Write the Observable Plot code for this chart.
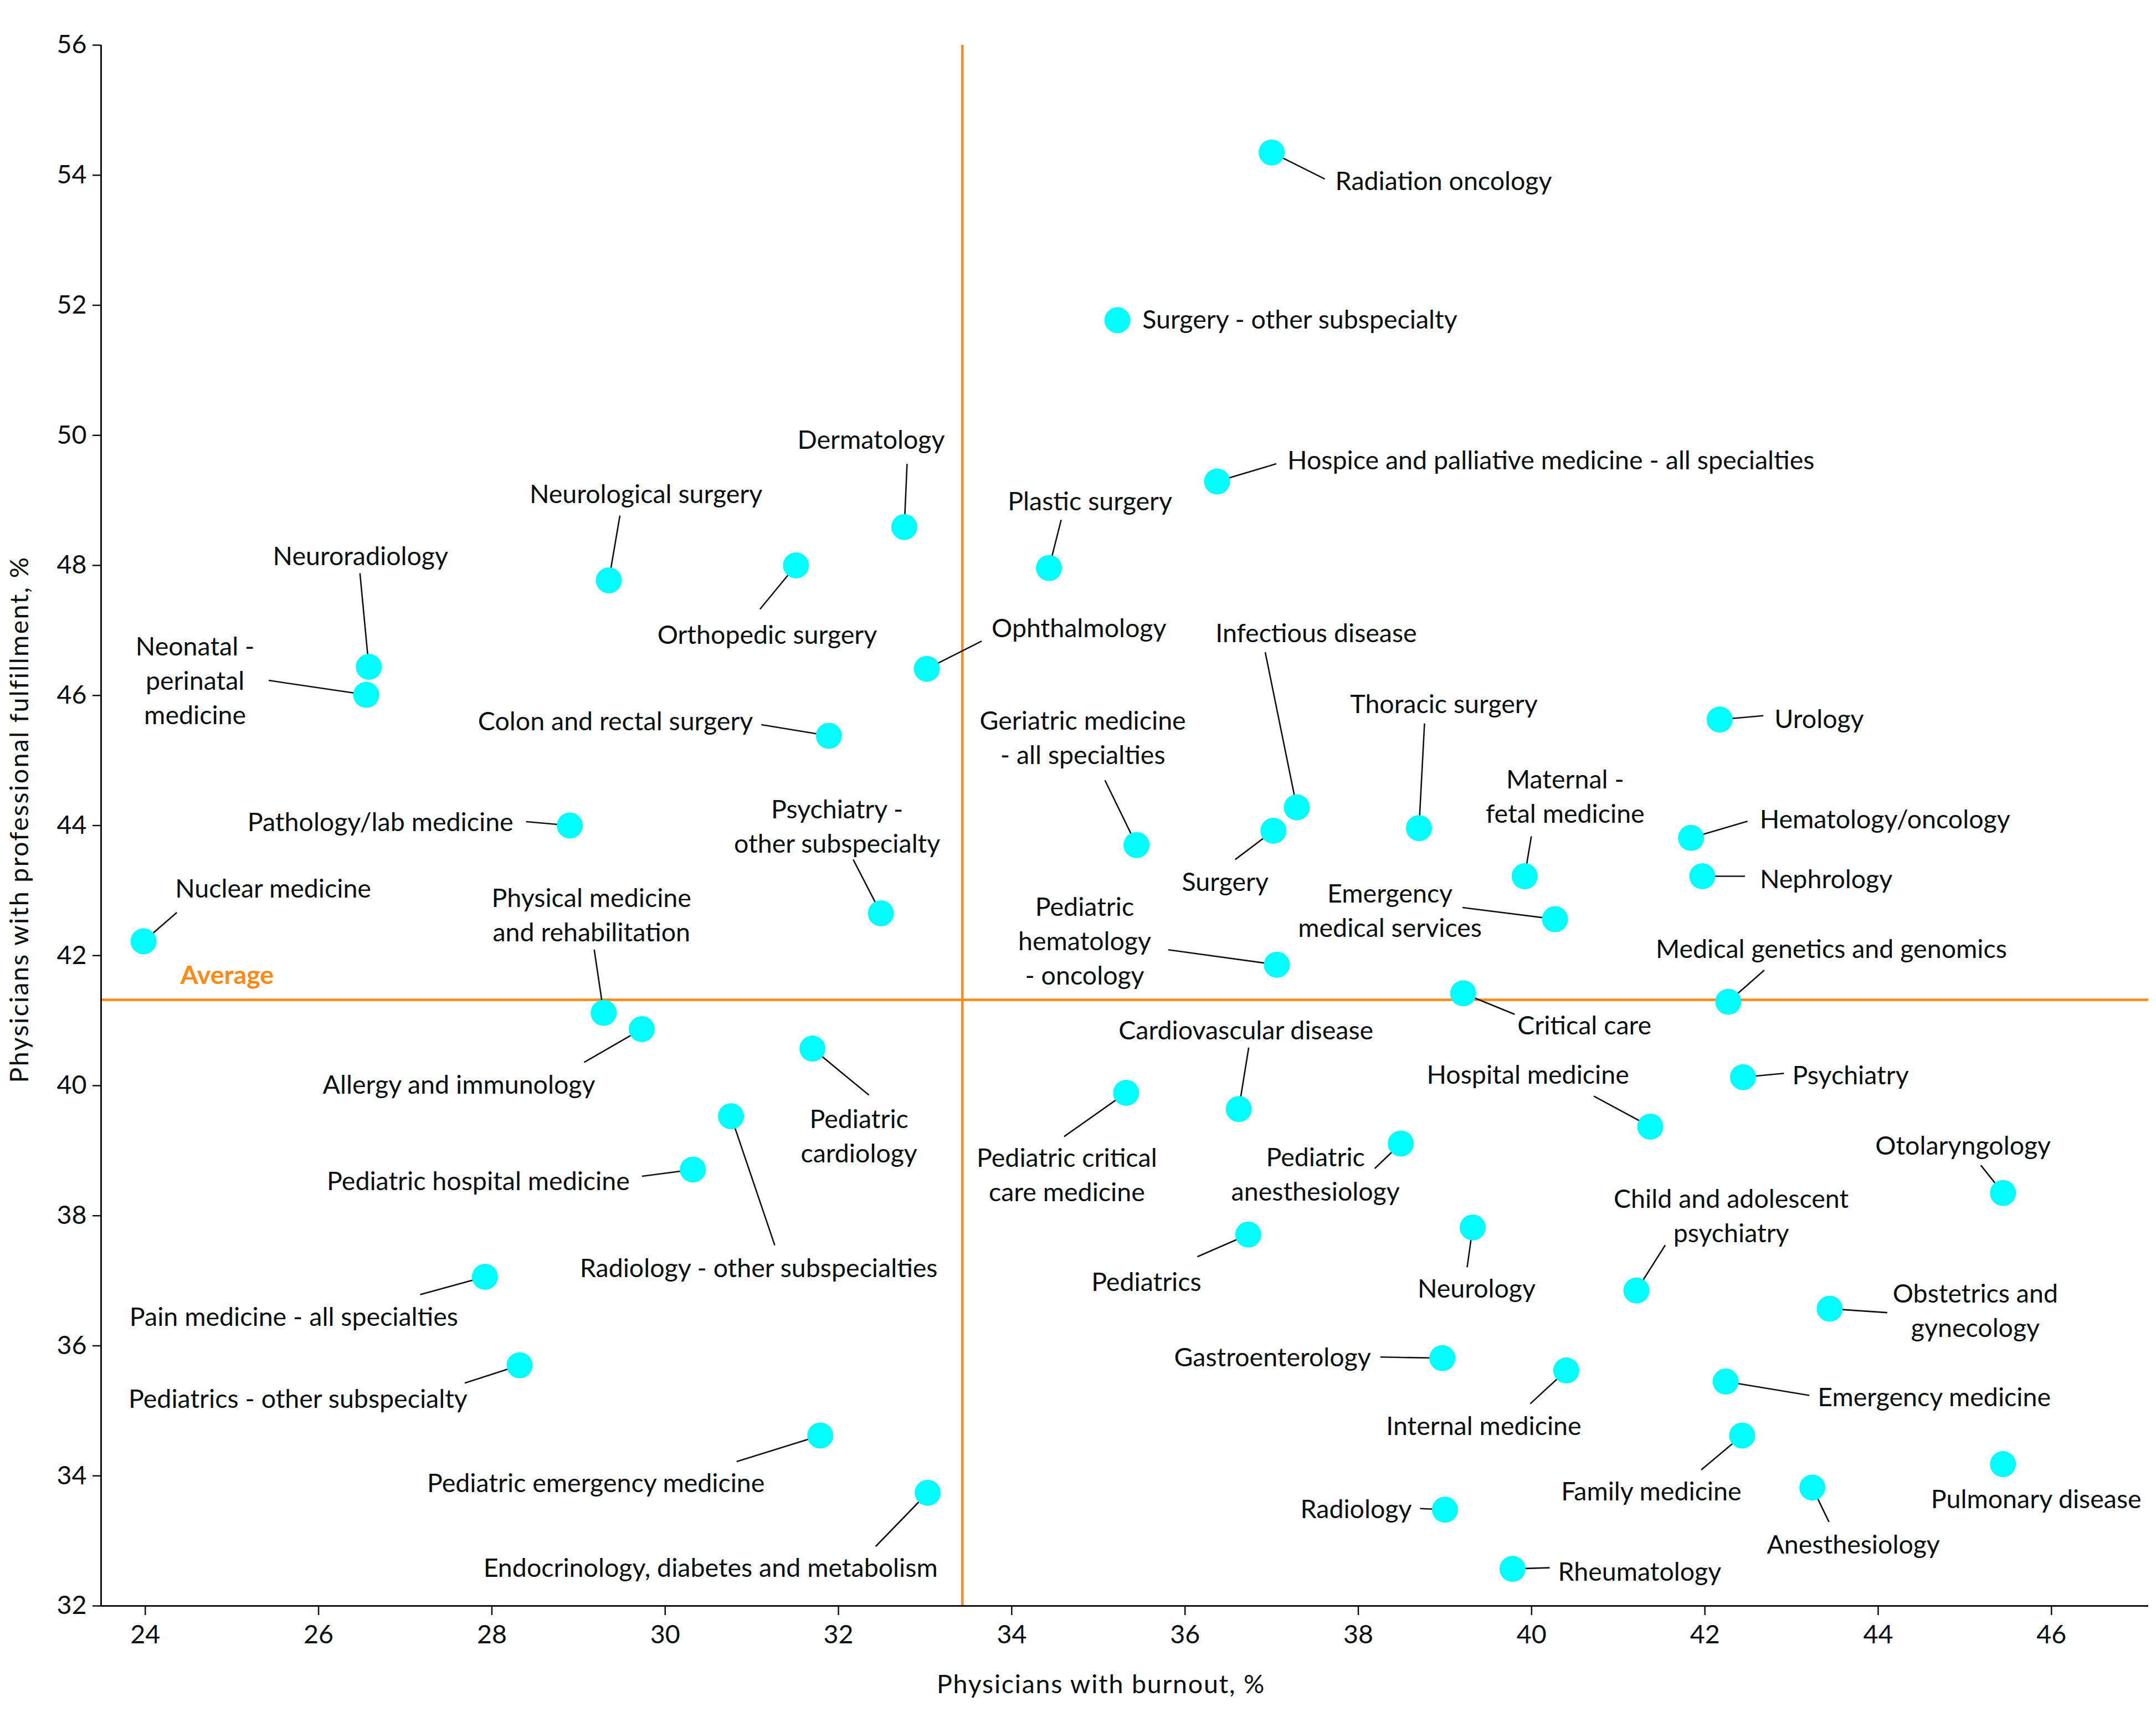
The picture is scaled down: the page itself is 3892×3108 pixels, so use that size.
<!DOCTYPE html>
<html>
<head>
<meta charset="utf-8">
<script src="https://cdn.jsdelivr.net/npm/d3@7"></script>
<script src="https://cdn.jsdelivr.net/npm/@observablehq/plot@0.6"></script>
<style>
  html, body { margin: 0; padding: 0; background: #fff; }
</style>
</head>
<body>
<div id="chart"></div>
<script>
// ---------------- DATA ----------------
const specialties = [
  "Radiation oncology", "Surgery - other subspecialty", "Hospice and palliative medicine - all specialties",
  "Plastic surgery", "Dermatology", "Neurological surgery", "Orthopedic surgery", "Neuroradiology",
  "Neonatal - perinatal medicine", "Ophthalmology", "Colon and rectal surgery", "Pathology/lab medicine",
  "Nuclear medicine", "Psychiatry - other subspecialty", "Physical medicine and rehabilitation",
  "Allergy and immunology", "Pediatric cardiology", "Radiology - other subspecialties",
  "Pediatric hospital medicine", "Pain medicine - all specialties", "Pediatrics - other subspecialty",
  "Pediatric emergency medicine", "Endocrinology, diabetes and metabolism", "Geriatric medicine - all specialties",
  "Infectious disease", "Surgery", "Thoracic surgery", "Maternal - fetal medicine", "Emergency medical services",
  "Urology", "Hematology/oncology", "Nephrology", "Medical genetics and genomics",
  "Pediatric hematology - oncology", "Critical care", "Cardiovascular disease",
  "Pediatric critical care medicine", "Pediatric anesthesiology", "Hospital medicine", "Psychiatry",
  "Otolaryngology", "Pediatrics", "Neurology", "Child and adolescent psychiatry", "Obstetrics and gynecology",
  "Gastroenterology", "Internal medicine", "Emergency medicine", "Family medicine", "Pulmonary disease",
  "Anesthesiology", "Radiology", "Rheumatology"
];

// Label text as printed (line breaks as in the figure)
const labelText = [
  "Radiation oncology", "Surgery - other subspecialty", "Hospice and palliative medicine - all specialties",
  "Plastic surgery", "Dermatology", "Neurological surgery", "Orthopedic surgery", "Neuroradiology",
  "Neonatal -\nperinatal\nmedicine", "Ophthalmology", "Colon and rectal surgery", "Pathology/lab medicine",
  "Nuclear medicine", "Psychiatry -\nother subspecialty", "Physical medicine\nand rehabilitation",
  "Allergy and immunology", "Pediatric\ncardiology", "Radiology - other subspecialties",
  "Pediatric hospital medicine", "Pain medicine - all specialties", "Pediatrics - other subspecialty",
  "Pediatric emergency medicine", "Endocrinology, diabetes and metabolism", "Geriatric medicine\n- all specialties",
  "Infectious disease", "Surgery", "Thoracic surgery", "Maternal -\nfetal medicine", "Emergency\nmedical services",
  "Urology", "Hematology/oncology", "Nephrology", "Medical genetics and genomics",
  "Pediatric\nhematology\n- oncology", "Critical care", "Cardiovascular disease",
  "Pediatric critical\ncare medicine", "Pediatric\nanesthesiology", "Hospital medicine", "Psychiatry",
  "Otolaryngology", "Pediatrics", "Neurology", "Child and adolescent\npsychiatry", "Obstetrics and\ngynecology",
  "Gastroenterology", "Internal medicine", "Emergency medicine", "Family medicine", "Pulmonary disease",
  "Anesthesiology", "Radiology", "Rheumatology"
];

// Physicians with burnout, %
const burnout = [
  37.00, 35.22, 36.37, 34.43, 32.76, 29.35, 31.51, 26.58,
  26.55, 33.02, 31.89, 28.90, 23.98, 32.49, 29.29,
  29.73, 31.70, 30.76, 30.32, 27.92, 28.32,
  31.79, 33.03, 35.44, 37.29, 37.02, 38.70, 39.92, 40.27,
  42.17, 41.84, 41.97, 42.27, 37.06, 39.21, 36.62,
  35.32, 38.49, 41.37, 42.44, 45.44, 36.73, 39.32, 41.21, 43.44,
  38.97, 40.40, 42.24, 42.43, 45.44, 43.24, 39.00, 39.78
];

// Physicians with professional fulfillment, %
const fulfillment = [
  54.35, 51.77, 49.29, 47.96, 48.59, 47.77, 48.00, 46.44,
  46.01, 46.41, 45.38, 44.00, 42.22, 42.65, 41.12,
  40.87, 40.57, 39.53, 38.71, 37.06, 35.70,
  34.62, 33.74, 43.70, 44.28, 43.92, 43.96, 43.22, 42.56,
  45.63, 43.81, 43.22, 41.29, 41.86, 41.42, 39.64,
  39.89, 39.11, 39.37, 40.13, 38.35, 37.71, 37.82, 36.85, 36.57,
  35.81, 35.62, 35.45, 34.62, 34.18, 33.82, 33.48, 32.57
];

const averageBurnout = 33.43;
const averageFulfillment = 41.32;

const xTicks = [24, 26, 28, 30, 32, 34, 36, 38, 40, 42, 44, 46];
const yTicks = [32, 34, 36, 38, 40, 42, 44, 46, 48, 50, 52, 54, 56];

const xTitle = "Physicians with burnout, %";
const yTitle = "Physicians with professional fulfillment, %";
const averageLabel = "Average";

// ---------------- LAYOUT (annotation offsets in px, not data) ----------------
// [textAnchor, label dx, label dy, leader end dx, leader end dy]
const labelLayout = [
  ["start", 115, 48, 96, 48], ["start", 45, -5, null, null], ["start", 127, -42, 107, -32],
  ["middle", 74, -124, 22, -87], ["middle", -60, -161, 5, -114], ["middle", 67, -159, 20, -117],
  ["middle", -52, 122, -65, 79], ["middle", -15, -203, -16, -169],
  ["middle", -309, -29, -176, -26], ["start", 117, -77, 99, -50], ["end", -137, -30, -122, -20],
  ["end", -102, -10, -79, -7],
  ["start", 57, -99, 60, -52], ["middle", -79, -160, -50, -97], ["middle", -22, -180, -17, -114],
  ["middle", -330, 97, -104, 60], ["middle", 84, 155, 102, 84], ["middle", 50, 270, 79, 233],
  ["end", -114, 17, -92, 12], ["middle", -345, 69, -117, 32], ["middle", -400, 57, -99, 32],
  ["middle", -405, 82, -151, 47], ["middle", -392, 132, -94, 97], ["middle", -97, -197, -57, -117],
  ["middle", 35, -318, -57, -280], ["middle", -87, 89, -69, 52], ["middle", 45, -228, 10, -189],
  ["middle", 73, -147, 12, -72], ["middle", -298, -19, -167, -21],
  ["start", 99, -5, 79, -7], ["start", 124, -37, 102, -30], ["start", 104, 2, 77, 0],
  ["middle", 186, -99, 65, -57],
  ["middle", -347, -46, -196, -27], ["start", 98, 54, 93, 38], ["middle", 13, -146, 18, -111],
  ["middle", -107, 145, -112, 79], ["middle", -154, 52, -47, 45], ["middle", -221, -97, -102, -55],
  ["start", 89, -7, 74, -7],
  ["middle", -72, -89, -40, -50], ["middle", -184, 82, -92, 40], ["middle", 7, 107, -10, 72],
  ["middle", 171, -138, 52, -82], ["middle", 263, 0, 104, 7],
  ["end", -129, -5, -112, -2], ["middle", -149, 97, -65, 60], ["start", 166, 25, 151, 25],
  ["middle", -164, 97, -74, 62], ["middle", 60, 60, null, null],
  ["middle", 74, 99, 30, 62], ["end", -60, -5, -45, -2], ["start", 82, 2, 67, -2]
];

// ---------------- CHART ----------------
const W = 3892, H = 3108;
const mL = 182, mR = 14, mT = 81, mB = 210;
const xDomain = [23.49, 47.12];
const yDomain = [32, 56];
const FONT = "Lato, 'Open Sans', 'Noto Sans', sans-serif";

// size the text so that printed widths match the figure
function textWidth(font, s) {
  const ctx = document.createElement("canvas").getContext("2d");
  ctx.font = font;
  return ctx.measureText(s).width;
}
const w100 = textWidth("100px " + FONT, "Radiation oncology");
const FS = Math.max(40, Math.min(56, 391 / w100 * 100));
const LH = 62 / FS;
function spacingFor(s, target) {
  const w = textWidth(FS + "px " + FONT, s);
  return Math.max(0, Math.min(4, (target - w) / s.length));
}
const xTitleLS = spacingFor(xTitle, 594);
const yTitleLS = spacingFor(yTitle, 951);
function spaced(ls) {
  return function(index, scales, values, dimensions, context, next) {
    const g = next(index, scales, values, dimensions, context);
    if (g) g.setAttribute("letter-spacing", ls + "px");
    return g;
  };
}

const ORANGE = "#FF8A14";
const CYAN = "#00FFFF";
const INK = "#0a0f0f";

const xs = Plot.scale({x: {domain: xDomain, range: [mL, W - mR]}});
const ys = Plot.scale({y: {domain: yDomain, range: [H - mB, mT]}});

const rows = specialties.map((name, i) => {
  const [anchor, dx, dy, lx, ly] = labelLayout[i];
  const px = xs.apply(burnout[i]), py = ys.apply(fulfillment[i]);
  return {
    name, label: labelText[i], x: burnout[i], y: fulfillment[i], anchor,
    tx: xs.invert(px + dx), ty: ys.invert(py + dy),
    hasLeader: lx != null,
    lx: lx == null ? null : xs.invert(px + lx),
    ly: ly == null ? null : ys.invert(py + ly)
  };
});

const textMarks = ["start", "middle", "end"].map(a =>
  Plot.text(rows.filter(d => d.anchor === a), {
    x: "tx", y: "ty", text: "label", textAnchor: a, lineAnchor: "middle",
    lineHeight: LH, fontSize: FS, fill: INK
  })
);

const chart = Plot.plot({
  width: W, height: H,
  marginLeft: mL, marginRight: mR, marginTop: mT, marginBottom: mB,
  x: {domain: xDomain},
  y: {domain: yDomain},
  style: {fontFamily: FONT, fontSize: FS + "px", background: "#fff", color: INK},
  marks: [
    Plot.ruleX([averageBurnout], {stroke: ORANGE, strokeWidth: 4.5}),
    Plot.ruleY([averageFulfillment], {stroke: ORANGE, strokeWidth: 4.5}),
    Plot.text([averageLabel], {x: xDomain[0], y: averageFulfillment, text: d => d, dx: 143, dy: -43,
      textAnchor: "start", lineAnchor: "middle", fill: ORANGE, fontWeight: "bold", fontSize: FS}),
    Plot.axisX({ticks: xTicks, tickSize: 17, tickPadding: 17, label: null, strokeWidth: 2.5, fontSize: FS, tickFormat: d => String(d)}),
    Plot.axisY({ticks: yTicks, tickSize: 15, tickPadding: 11, label: null, strokeWidth: 2.5, fontSize: FS, tickFormat: d => String(d)}),
    Plot.ruleX([xDomain[0]], {stroke: "#111", strokeWidth: 3}),
    Plot.ruleY([yDomain[0]], {stroke: "#111", strokeWidth: 3}),
    Plot.link(rows.filter(d => d.hasLeader), {x1: "x", y1: "y", x2: "lx", y2: "ly", stroke: "#111", strokeWidth: 2.6}),
    Plot.dot(rows, {x: "x", y: "y", r: 23.5, fill: CYAN, stroke: "none"}),
    ...textMarks,
    Plot.text([xTitle], {frameAnchor: "bottom", text: d => d, dx: -43, dy: 143,
      textAnchor: "middle", lineAnchor: "middle", fontSize: FS, render: spaced(xTitleLS)}),
    Plot.text([yTitle], {frameAnchor: "left", text: d => d, rotate: -90,
      dx: -146, dy: -11, textAnchor: "middle", lineAnchor: "middle", fontSize: FS, render: spaced(yTitleLS)})
  ]
});

document.getElementById("chart").appendChild(chart);
</script>
</body>
</html>
